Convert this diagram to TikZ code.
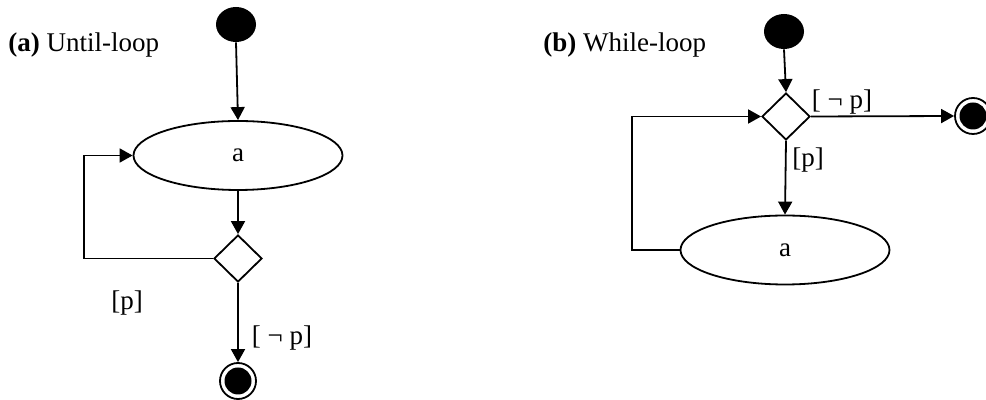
\documentclass[tikz,border=0pt]{standalone}
\usepackage{fontspec}
\setmainfont{Liberation Serif}
\usetikzlibrary{shapes.geometric,arrows.meta}
\begin{document}
\begin{tikzpicture}[x=0.5pt,y=-0.5pt,
  every node/.style={font=\fontsize{13.5}{16}\selectfont},
  startnode/.style={ellipse,fill=black,minimum width=20pt,minimum height=17.5pt,inner sep=0pt},
  actnode/.style={ellipse,draw,line width=0.9pt,minimum width=104.5pt,minimum height=34.5pt,inner sep=0pt},
  decnode/.style={diamond,draw,line width=0.9pt,minimum width=24pt,minimum height=23.5pt,inner sep=0pt},
  endnode/.style={circle,draw,line width=0.9pt,minimum size=18pt,inner sep=0pt,
    path picture={\fill (path picture bounding box.center) circle (6.75pt);}},
  flow/.style={line width=0.9pt,-{Triangle[length=6.5pt,width=7pt]}},
  plain/.style={line width=0.9pt},
  lbl/.style={inner sep=0pt}]
\useasboundingbox (0,0) rectangle (986,400);
% (a) Until-loop
\node[lbl,anchor=west] (ta) at (8,45) {\textbf{(a)} Until-loop};
\node[startnode] (sa) at (236,24.5) {};
\node[actnode] (aa) at (238,155.5) {a};
\node[decnode] (da) at (238,258.5) {};
\node[endnode] (fa) at (238,381) {};
\coordinate (la1) at (84,258.5);
\coordinate (la2) at (84,155.5);
\draw[flow] (sa.south) -- (aa.north);
\draw[flow] (aa.south) -- (da.north);
\draw[flow] (da.west) -- (la1) -- (la2) -- (aa.west);
\draw[flow] (da.south) -- (fa.north);
\node[lbl] (pa) at (127,303) {[p]};
\node[lbl] (npa) at (282,338) {[ ¬ p]};
% (b) While-loop
\node[lbl,anchor=west] (tb) at (543,45) {\textbf{(b)} While-loop};
\node[startnode] (sb) at (784,31.5) {};
\node[decnode] (db) at (786,116.5) {};
\node[actnode] (ab) at (785,250) {a};
\node[endnode] (fb) at (973,116) {};
\coordinate (lb1) at (632,250);
\coordinate (lb2) at (632,116.5);
\draw[flow] (sb.south) -- (db.north);
\draw[flow] (db.east) -- (fb.west);
\draw[flow] (db.south) -- (ab.north);
\draw[flow] (ab.west) -- (lb1) -- (lb2) -- (db.west);
\node[lbl] (npb) at (842,102) {[ ¬ p]};
\node[lbl] (pb) at (808,160) {[p]};
\end{tikzpicture}
\end{document}
